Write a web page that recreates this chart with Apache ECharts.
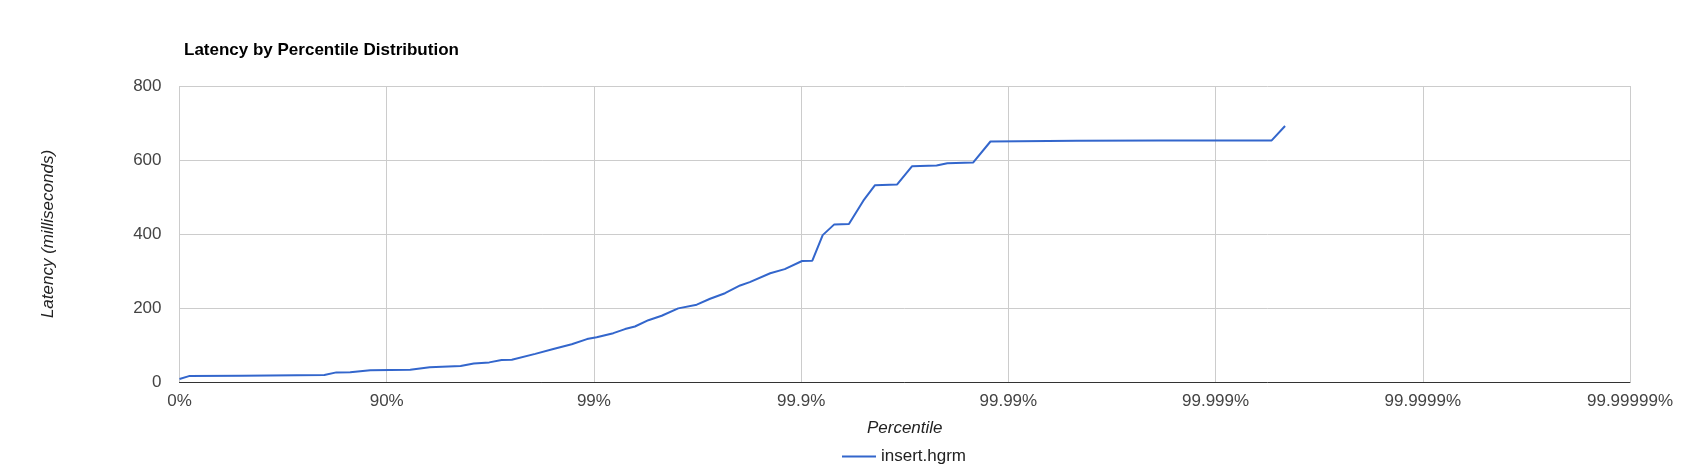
<!DOCTYPE html>
<html>
<head>
<meta charset="utf-8">
<script src="https://cdn.jsdelivr.net/npm/echarts@6/dist/echarts.min.js"></script>
<style>
html,body{margin:0;padding:0;background:#fff;}
#chart{width:1685px;height:471px;}
</style>
</head>
<body>
<div id="chart"></div>
<script>
// Percentile (%) of each vertex of the line
var percentiles = [0, 10, 50, 80, 82.5, 85, 88, 92.3, 93.8, 95.6, 96.2, 96.8, 97.21, 97.51,
  98.08, 98.43, 98.72, 98.92, 99.03, 99.194, 99.292, 99.366, 99.454, 99.529, 99.608,
  99.681, 99.725, 99.767, 99.803, 99.823, 99.859, 99.880, 99.901, 99.9117, 99.9213,
  99.9308, 99.9412, 99.9499, 99.956, 99.9656, 99.9708, 99.9778, 99.9803, 99.9852,
  99.9878, 99.99532, 99.998147, 99.999464, 99.999538];
// Latency (milliseconds)
var latencies = [8, 16, 17, 19, 26, 26.5, 32, 33, 40, 43, 50, 53, 59.5, 60,
  76, 89, 102, 116, 121, 132, 143, 150, 167, 179, 199,
  209, 225, 240, 261, 270, 294, 305, 327, 328, 397,
  426, 427, 490, 532, 534, 583, 585, 591, 593,
  650, 652, 653, 653, 692];
var seriesName = 'insert.hgrm';
var xTickLabels = ['0%', '90%', '99%', '99.9%', '99.99%', '99.999%', '99.9999%', '99.99999%'];
var yTicks = [0, 200, 400, 600, 800];

var FONT = "'Liberation Sans', Arial, sans-serif";
var data = percentiles.map(function (p, i) {
  return [100 / (100 - p), latencies[i]];
});

var chart = echarts.init(document.getElementById('chart'), null, {renderer: 'canvas'});
chart.setOption({
  animation: false,
  backgroundColor: '#ffffff',
  textStyle: {fontFamily: FONT},
  title: {
    text: 'Latency by Percentile Distribution',
    left: 179,
    top: 37,
    textStyle: {fontFamily: FONT, fontSize: 17, fontWeight: 'bold', color: '#000'}
  },
  grid: {left: 179.5, right: 55, top: 86, bottom: 89, containLabel: false, outerBoundsMode: 'none'},
  legend: {
    data: [{name: seriesName, icon: 'rect'}],
    left: 837,
    top: 443,
    itemWidth: 34,
    itemHeight: 2,
    textStyle: {fontFamily: FONT, fontSize: 17, color: '#222'}
  },
  xAxis: {
    type: 'log',
    logBase: 10,
    min: 1,
    max: 1e7,
    splitNumber: 7,
    name: 'Percentile',
    nameLocation: 'middle',
    nameGap: 38,
    nameTextStyle: {fontFamily: FONT, fontSize: 17, fontStyle: 'italic', color: '#222'},
    axisLine: {show: true, lineStyle: {color: '#333', width: 1}},
    axisTick: {show: false},
    splitLine: {show: true, lineStyle: {color: '#cccccc', width: 1}},
    minorTick: {show: false},
    minorSplitLine: {show: false},
    axisLabel: {
      fontFamily: FONT, fontSize: 17, color: '#444', margin: 11,
      showMinLabel: true, showMaxLabel: true,
      formatter: function (v) {
        var idx = Math.round(Math.log10(v));
        return xTickLabels[idx] !== undefined ? xTickLabels[idx] : '';
      }
    }
  },
  yAxis: {
    type: 'value',
    min: yTicks[0],
    max: yTicks[yTicks.length - 1],
    interval: yTicks[1] - yTicks[0],
    name: 'Latency (milliseconds)',
    nameLocation: 'middle',
    nameRotate: 90,
    nameGap: 123,
    nameTextStyle: {fontFamily: FONT, fontSize: 17, fontStyle: 'italic', color: '#222'},
    axisLine: {show: false},
    axisTick: {show: false},
    splitLine: {show: true, lineStyle: {color: '#cccccc', width: 1}},
    axisLabel: {fontFamily: FONT, fontSize: 17, color: '#444', margin: 18}
  },
  series: [{
    name: seriesName,
    type: 'line',
    data: data,
    symbol: 'none',
    showSymbol: false,
    lineStyle: {color: '#3366cc', width: 2},
    itemStyle: {color: '#3366cc'}
  }]
});
</script>
</body>
</html>
